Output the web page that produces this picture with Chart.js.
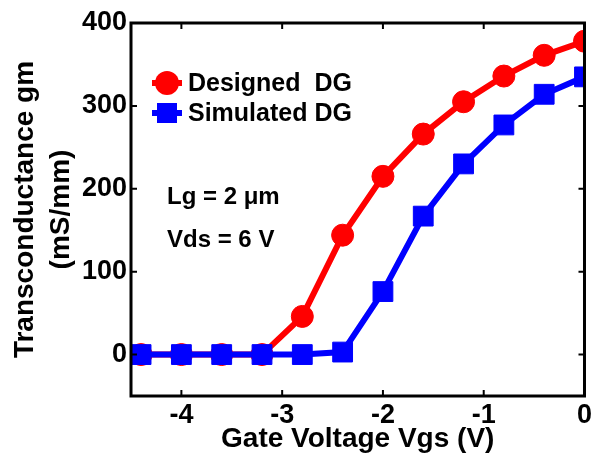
<!DOCTYPE html>
<html>
<head>
<meta charset="utf-8">
<script src="https://cdn.jsdelivr.net/npm/chart.js@4"></script>
<style>
  html, body { margin: 0; padding: 0; background: #fff; }
  #wrap { width: 595px; height: 455px; }
</style>
</head>
<body>
<div id="wrap"><canvas id="myChart"></canvas></div>
<script>
const vgs = [-4.4, -4.0, -3.6, -3.2, -2.8, -2.4, -2.0, -1.6, -1.2, -0.8, -0.4, 0];
const designedDG = [0, 0, 0, 0, 46, 144, 215, 266, 305, 336, 361, 378];
const simulatedDG = [0, 0, 0, 0, 0, 3, 76, 167, 230, 277, 314, 335];
const xTicks = [-4, -3, -2, -1, 0];
const yTicks = [0, 100, 200, 300, 400];
const seriesNames = ['Designed  DG', 'Simulated DG'];
const notes = ['Lg = 2 \u03bcm', 'Vds = 6 V'];

const FONT = 'Arial, "Liberation Sans", sans-serif';

const toPoints = (ys) => vgs.map((x, i) => ({ x: x, y: ys[i] }));

// frame, inward ticks, legend and notes
const framePlugin = {
  id: 'frame',
  afterDraw(chart) {
    const c = chart.ctx;
    const a = chart.chartArea;
    const xs = chart.scales.x, ys = chart.scales.y;
    c.save();
    c.strokeStyle = '#000';
    c.lineWidth = 3;
    c.strokeRect(a.left, a.top, a.right - a.left, a.bottom - a.top);
    c.lineWidth = 2;
    c.beginPath();
    xTicks.forEach(v => {
      const px = xs.getPixelForValue(v);
      c.moveTo(px, a.bottom); c.lineTo(px, a.bottom - 6);
      c.moveTo(px, a.top); c.lineTo(px, a.top + 6);
    });
    yTicks.forEach(v => {
      const py = ys.getPixelForValue(v);
      c.moveTo(a.left, py); c.lineTo(a.left + 6, py);
      c.moveTo(a.right, py); c.lineTo(a.right - 6, py);
    });
    c.stroke();

    // legend
    const lx = 152, lw = 30;
    const rows = [83, 113];
    chart.data.datasets.forEach((ds, i) => {
      const y = rows[i];
      c.strokeStyle = ds.borderColor;
      c.lineWidth = 6;
      c.beginPath();
      c.moveTo(lx, y); c.lineTo(lx + lw, y);
      c.stroke();
      c.fillStyle = ds.borderColor;
      c.beginPath();
      if (ds.pointStyle === 'circle') {
        c.arc(lx + lw / 2, y, 12, 0, Math.PI * 2);
      } else {
        c.rect(lx + lw / 2 - 10, y - 10, 20, 20);
      }
      c.fill();
      c.fillStyle = '#000';
      c.font = 'bold 25px ' + FONT;
      c.textAlign = 'left';
      c.textBaseline = 'middle';
      c.fillText(seriesNames[i], 188, y + 1);
    });

    c.font = 'bold 24px ' + FONT;
    c.fillText(notes[0], 167, 197);
    c.fillText(notes[1], 167, 240);
    c.restore();
  }
};

const ctx = document.getElementById('myChart');

const myChart = new Chart(ctx, {
  type: 'line',
  data: {
    datasets: [{
      label: seriesNames[0],
      data: toPoints(designedDG),
      borderColor: '#ff0000',
      backgroundColor: '#ff0000',
      borderWidth: 6,
      pointStyle: 'circle',
      pointRadius: 11,
      pointBorderWidth: 1,
      order: 2
    }, {
      label: seriesNames[1],
      data: toPoints(simulatedDG),
      borderColor: '#0000ff',
      backgroundColor: '#0000ff',
      borderWidth: 6,
      pointStyle: 'rect',
      pointRadius: 14,
      pointBorderWidth: 1,
      order: 1
    }]
  },
  options: {
    responsive: true,
    maintainAspectRatio: false,
    animation: false,
    layout: {
      autoPadding: false,
      padding: { top: 23, right: 3, left: 0, bottom: 0 }
    },
    plugins: {
      legend: { display: false },
      tooltip: { enabled: false }
    },
    scales: {
      x: {
        type: 'linear',
        min: -4.5,
        max: 0,
        grid: { display: false, drawTicks: false },
        border: { display: false },
        afterBuildTicks: (s) => { s.ticks = xTicks.map(v => ({ value: v })); },
        afterFit: (s) => { s.height = 59; },
        ticks: {
          color: '#000',
          padding: 3,
          maxRotation: 0,
          font: { family: FONT, size: 27, weight: 'bold' }
        },
        title: {
          display: true,
          text: 'Gate Voltage Vgs (V)',
          color: '#000',
          padding: { top: 0, bottom: -1 },
          font: { family: FONT, size: 28, weight: 'bold' }
        }
      },
      y: {
        min: -50,
        max: 400,
        grid: { display: false, drawTicks: false },
        border: { display: false },
        afterBuildTicks: (s) => { s.ticks = yTicks.map(v => ({ value: v })); },
        afterFit: (s) => { s.width = 131; },
        ticks: {
          color: '#000',
          padding: 4,
          font: { family: FONT, size: 27, weight: 'bold' }
        },
        title: {
          display: true,
          text: ['Transconductance gm', '(mS/mm)'],
          color: '#000',
          padding: { top: 7, bottom: 0 },
          font: { family: FONT, size: 28, weight: 'bold', lineHeight: 1.3 }
        }
      }
    }
  },
  plugins: [framePlugin]
});
</script>
</body>
</html>
